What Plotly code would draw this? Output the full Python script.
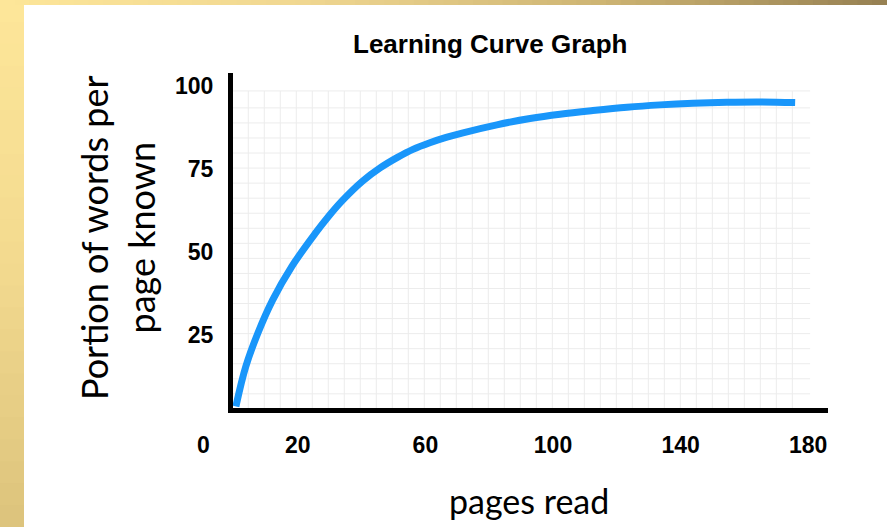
import plotly.graph_objects as go

# ---- data ----
pages = [0.6, 3.7, 7.5, 12.1, 18.1, 25.4, 29.8, 33.8, 40.4, 45.8, 51.1, 56.1, 61.4,
         66.5, 71.8, 82.4, 92.8, 102.2, 112.5, 123.2, 133.5, 143.9, 154.5, 164.9, 175.9]
known = [3.5, 15.5, 25.6, 35.5, 45.6, 55.5, 60.9, 65.3, 71.4, 75.3, 78.4, 80.9, 82.9,
         84.5, 85.9, 88.3, 90.2, 91.5, 92.6, 93.6, 94.3, 94.8, 95.1, 95.2, 95.0]
x_ticks = [20, 60, 100, 140, 180]
x_tick_labels = ["20", "60", "100", "140", "180"]
y_ticks = [25, 50, 75, 100]
y_tick_labels = ["25", "50", "75", "100"]

W, H = 887, 527
L, R, T, B = 233, 59, 73, 119
PW, PH = W - L - R, H - T - B


def px(xp):
    return (xp - L) / PW


def py(yp):
    return (H - B - yp) / PH


def lerp_col(stops, t):
    for (t0, c0), (t1, c1) in zip(stops, stops[1:]):
        if t <= t1:
            f = (t - t0) / (t1 - t0) if t1 > t0 else 0
            return "rgb(%d,%d,%d)" % tuple(round(a + (b - a) * f) for a, b in zip(c0, c1))
    return "rgb(%d,%d,%d)" % stops[-1][1]


shapes = []
# gold frame strips (stepped gradient)
left_stops = [(0, (253, 230, 153)), (0.5, (243, 218, 143)), (1, (220, 195, 124))]
n = 24
for i in range(n):
    y0 = H * i / n
    y1 = H * (i + 1) / n + 1
    shapes.append(dict(type="rect", xref="paper", yref="paper", x0=px(0), x1=px(24),
                       y0=py(y0), y1=py(y1), fillcolor=lerp_col(left_stops, (i + 0.5) / n),
                       line=dict(width=0), layer="below"))
top_stops = [(0, (253, 230, 153)), (0.34, (240, 215, 145)), (0.68, (205, 180, 115)), (1, (150, 128, 82))]
n = 60
for i in range(n):
    x0 = W * i / n
    x1 = W * (i + 1) / n + 1
    shapes.append(dict(type="rect", xref="paper", yref="paper", x0=px(x0), x1=px(x1),
                       y0=py(0), y1=py(5), fillcolor=lerp_col(top_stops, (i + 0.5) / n),
                       line=dict(width=0), layer="below"))

# fine background grid (data units)
grid_col = "#ececec"
gx0, gdx, gnx = 4.48, 5.016, 35
gy0, gdy, gny = 93.4, 4.533, 20
g_top, g_right, g_bottom, g_left = 98.5, 180.6, 3.0, -0.3
for k in range(gnx):
    xv = gx0 + k * gdx
    shapes.append(dict(type="line", xref="x", yref="y", x0=xv, x1=xv, y0=g_bottom, y1=g_top,
                       line=dict(color=grid_col, width=1), layer="below"))
for k in range(gny):
    yv = gy0 - k * gdy
    shapes.append(dict(type="line", xref="x", yref="y", x0=g_left, x1=g_right, y0=yv, y1=yv,
                       line=dict(color=grid_col, width=1), layer="below"))
shapes.append(dict(type="line", xref="x", yref="y", x0=g_left, x1=g_right, y0=g_top, y1=g_top,
                   line=dict(color=grid_col, width=1), layer="below"))

fig = go.Figure()
fig.add_trace(go.Scatter(x=pages, y=known, mode="lines",
                         line=dict(color="#1996fa", width=7, shape="spline", smoothing=1.0),
                         hoverinfo="skip", showlegend=False))

tick_font = dict(family="Liberation Sans, Arial, sans-serif", size=23, color="black", weight="bold")

annotations = [
    dict(text="<b>Learning Curve Graph</b>", xref="paper", yref="paper", x=px(490.5), y=py(44),
         xanchor="center", yanchor="middle", showarrow=False,
         font=dict(family="Liberation Sans, Arial, sans-serif", size=26, color="black")),
    dict(text="0", xref="paper", yref="paper", x=px(203), y=py(445), xanchor="center",
         yanchor="middle", showarrow=False, font=tick_font),
    dict(text="pages read", xref="paper", yref="paper", x=px(529), y=py(500), xanchor="center",
         yanchor="middle", showarrow=False,
         font=dict(family="Lato, sans-serif", size=34, color="black")),
    dict(text="Portion of words per<br>page known", xref="paper", yref="paper", x=px(117),
         y=py(238), xanchor="center", yanchor="middle", textangle=-90, showarrow=False,
         font=dict(family="Lato, sans-serif", size=36, color="black")),
]

fig.update_layout(
    width=W, height=H, autosize=False,
    margin=dict(l=L, r=R, t=T, b=B, pad=0),
    paper_bgcolor="white", plot_bgcolor="rgba(0,0,0,0)",
    shapes=shapes, annotations=annotations, showlegend=False,
    xaxis=dict(range=[-0.31, 186.2], showline=True, linewidth=5, linecolor="black",
               showgrid=False, zeroline=False, tickvals=x_ticks, ticktext=x_tick_labels,
               tickfont=tick_font, ticks="", ticklabelstandoff=12, fixedrange=True),
    yaxis=dict(range=[3.01, 103.9], showline=True, linewidth=5, linecolor="black",
               showgrid=False, zeroline=False, tickvals=y_ticks, ticktext=y_tick_labels,
               tickfont=tick_font, ticks="", ticklabelstandoff=10, fixedrange=True),
)

fig.write_html("out.html", config={"displayModeBar": False},
               post_script="document.body.style.margin='0';document.body.style.padding='0';")
